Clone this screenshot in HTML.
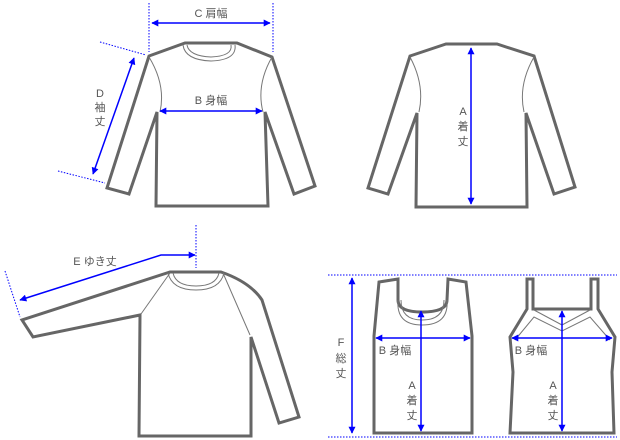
<!DOCTYPE html>
<html><head><style>body{margin:0;background:#fff}svg{display:block}text{font-family:"Liberation Sans","Noto Sans CJK JP",sans-serif;font-size:11px;fill:#555}</style></head><body>
<svg width="620" height="440" viewBox="0 0 620 440" xmlns="http://www.w3.org/2000/svg">
<defs><marker id="a" viewBox="0 0 10 10" refX="9" refY="5" markerWidth="9" markerHeight="7" orient="auto-start-reverse" markerUnits="userSpaceOnUse"><path d="M0,0L10,5L0,10z" fill="#00f"/></marker></defs>
<g fill="none" stroke="#666" stroke-width="3" stroke-linejoin="miter">
<!-- front shirt -->
<path d="M185,43L237,43L272,57L315,186L294,194L265,112L268,206L156,206L157,112L129,194L107,188L149,56Z"/>
<!-- back -->
<path d="M446,44L497,44L534,56L575,187L554,194L526,113L527,207L416,207L417,113L388,194L368,188L410,56Z"/>
<!-- raglan -->
<path d="M170,272L221,272Q250,282 262,300L299,417L279,423L251,337L251,436L139,436L140,315L33,337L22,320Z"/>
<!-- tank1 -->
<path d="M379,282L398,279L398,300Q398,312 422,312Q447,312 447,300L448,279L466,282L472,336L472,433L374,433L374,336Z"/>
<!-- tank2 -->
<path d="M527,279L533,279L533,309L591,309L591,279L598,279L598,309L615,337L612,372L614,433L510,433L513,372L510,337L527,309Z"/>
</g>
<g fill="none" stroke="#777" stroke-width="1">
<path d="M149,57Q166,85 160,112M272,57Q256,85 263,112"/>
<path d="M183,45Q185,60 211,61Q237,60 235,45M187,45Q189,56 211,57Q233,56 231,45"/>
<path d="M410,57Q425,85 419,112M534,57Q518,85 524,112"/>
<path d="M170,273L141,314M223,273L250,335M168,273Q172,290 196,290Q220,290 224,273M173,273Q176,286 196,286Q216,286 219,273"/>
<path d="M398,300Q396,325 422,325Q449,325 447,300M401,300Q401,320 422,320Q444,320 444,300"/>
<path d="M534,310L562,325L590,310M515,340L534,317L562,331L590,317L610,340"/>
</g>
<g stroke="#00f" stroke-width="1" fill="none" stroke-dasharray="1.5,1.5">
<path d="M149,3V52M273,3V52M100,42L146,55M58,171L105,183M196,225V268M5,271L20,317M328,275H617M328,437H617"/>
</g>
<g stroke="#00f" stroke-width="1.5" fill="none">
<path d="M152,23H270" marker-start="url(#a)" marker-end="url(#a)"/>
<path d="M160,111H262" marker-start="url(#a)" marker-end="url(#a)"/>
<path d="M134,58L93,174" marker-start="url(#a)" marker-end="url(#a)"/>
<path d="M471,48V204" marker-start="url(#a)" marker-end="url(#a)"/>
<path d="M195,255H161L20,300" marker-start="url(#a)" marker-end="url(#a)"/>
<path d="M352,278V433" marker-start="url(#a)" marker-end="url(#a)"/>
<path d="M376,338H470" marker-start="url(#a)" marker-end="url(#a)"/>
<path d="M421,311V431" marker-start="url(#a)" marker-end="url(#a)"/>
<path d="M512,338H612" marker-start="url(#a)" marker-end="url(#a)"/>
<path d="M562,311V431" marker-start="url(#a)" marker-end="url(#a)"/>
</g>
<g text-anchor="middle">
<text x="211" y="17">C 肩幅</text>
<text x="211" y="104">B 身幅</text>
<text x="100" y="97">D</text><text x="100" y="111">袖</text><text x="100" y="125">丈</text>
<text x="463" y="115">A</text><text x="463" y="130">着</text><text x="463" y="145">丈</text>
<text x="95" y="265">E ゆき丈</text>
<text x="341" y="346">F</text><text x="341" y="362">総</text><text x="341" y="377">丈</text>
<text x="395" y="354">B 身幅</text>
<text x="531" y="354">B 身幅</text>
<text x="412" y="389">A</text><text x="412" y="404">着</text><text x="412" y="419">丈</text>
<text x="553" y="389">A</text><text x="553" y="404">着</text><text x="553" y="419">丈</text>
</g>
</svg>
</body></html>
